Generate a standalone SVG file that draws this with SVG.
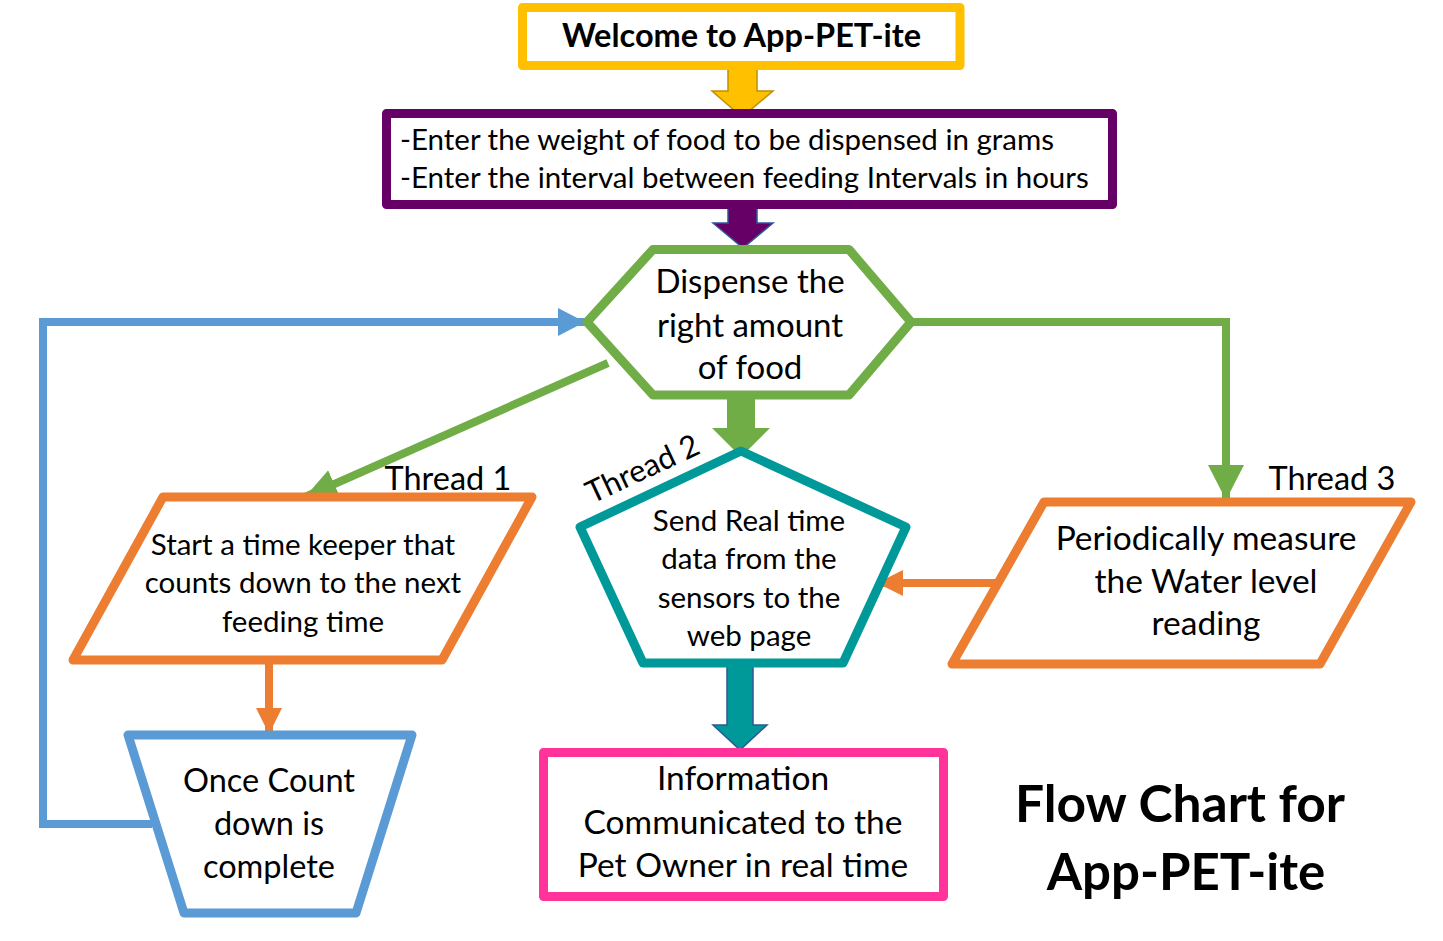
<svg xmlns="http://www.w3.org/2000/svg" width="1443" height="941" viewBox="0 0 1443 941">
  <style>
    .t { font-family: Lato, "Liberation Sans", sans-serif; fill: #000; }
    .c { text-anchor: middle; }
    .b { font-weight: bold; }
    .shape { fill: #fff; stroke-width: 9; stroke-linejoin: round; }
    .line { fill: none; stroke-width: 8; }
  </style>
  <defs>
    <marker id="headGreen" markerUnits="userSpaceOnUse" markerWidth="40" markerHeight="40" refX="32" refY="15" orient="auto">
      <path d="M0,0 L32,15 L0,30 Z" fill="#70AD47"/>
    </marker>
    <marker id="headGreenBig" markerUnits="userSpaceOnUse" markerWidth="40" markerHeight="40" refX="35" refY="18" orient="auto">
      <path d="M0,0 L35,18 L0,36 Z" fill="#70AD47"/>
    </marker>
    <marker id="headBlue" markerUnits="userSpaceOnUse" markerWidth="40" markerHeight="40" refX="27" refY="14" orient="auto">
      <path d="M0,0 L27,14 L0,28 Z" fill="#5B9BD5"/>
    </marker>
    <marker id="headOrange" markerUnits="userSpaceOnUse" markerWidth="40" markerHeight="40" refX="26" refY="13" orient="auto">
      <path d="M0,0 L26,13 L0,26 Z" fill="#ED7D31"/>
    </marker>
  </defs>

  <rect width="1443" height="941" fill="#fff"/>

  <!-- connectors -->
  <g id="connectors">
    <!-- block arrows -->
    <path id="arrow-welcome-input" d="M728,67 L757,67 L757,91 L773,91 L742,117 L712,91 L728,91 Z" fill="#FFC000" stroke="#BF9000" stroke-width="1.5"/>
    <path id="arrow-input-dispense" d="M728,200 L757,200 L757,223 L773,223 L743,248 L713,223 L728,223 Z" fill="#660066" stroke="#2F5597" stroke-width="1.5"/>
    <path id="arrow-dispense-thread2" d="M727,395 L755,395 L755,428 L770,428 L741,457 L712,428 L727,428 Z" fill="#70AD47"/>
    <path id="arrow-thread2-info" d="M727,665 L753,665 L753,725 L767,725 L740,750 L713,725 L727,725 Z" fill="#009999" stroke="#2F5597" stroke-width="1.5"/>

    <!-- Thread 1 -->
    <line x1="608" y1="363" x2="305" y2="497" class="line" stroke="#70AD47" marker-end="url(#headGreen)"/>
    <!-- Thread 3 -->
    <polyline points="911,322 1226,322 1226,500" class="line" stroke="#70AD47" stroke-width="10" marker-end="url(#headGreenBig)"/>
    <!-- water level reading to web page -->
    <line x1="996" y1="583" x2="877" y2="583" class="line" stroke="#ED7D31" stroke-width="9" marker-end="url(#headOrange)"/>
    <!-- timer to countdown -->
    <line x1="269" y1="660" x2="269" y2="734" class="line" stroke="#ED7D31" stroke-width="9" marker-end="url(#headOrange)"/>
    <!-- loop back to dispense -->
    <polyline points="152,824 43,824 43,322 585,322" class="line" stroke="#5B9BD5" stroke-width="9" marker-end="url(#headBlue)"/>
  </g>

  <!-- nodes -->
  <g id="welcome">
    <rect x="522.5" y="7.5" width="437.5" height="58" class="shape" stroke="#FFC000" stroke-linejoin="miter"/>
    <text x="741.5" y="47" class="t c b" font-size="32.5">Welcome to App-PET-ite</text>
  </g>

  <g id="input">
    <rect x="386.5" y="113.5" width="726" height="91" class="shape" stroke="#660066" stroke-linejoin="miter"/>
    <text x="400" y="150" class="t" font-size="29.5">-Enter the weight of food to be dispensed in grams</text>
    <text x="400" y="188" class="t" font-size="29.5">-Enter the interval between feeding Intervals in hours</text>
  </g>

  <g id="dispense">
    <polygon points="653,249.5 849,249.5 911,322 849,395 653,395 587,322" class="shape" stroke="#70AD47"/>
    <text x="750" y="293" class="t c" font-size="33">Dispense the</text>
    <text x="750" y="337" class="t c" font-size="33">right amount</text>
    <text x="750" y="379" class="t c" font-size="33">of food</text>
  </g>

  <g id="timer">
    <polygon points="163,497 532,497 442,660 73,660" class="shape" stroke="#ED7D31"/>
    <text x="303" y="555" class="t c" font-size="29.5">Start a time keeper that</text>
    <text x="303" y="593" class="t c" font-size="29.5">counts down to the next</text>
    <text x="303" y="632" class="t c" font-size="29.5">feeding time</text>
    <text x="448" y="490" class="t c" font-size="32.5">Thread 1</text>
  </g>

  <g id="send-data">
    <polygon points="741,451 906,527 843,663 643,663 580,527" class="shape" stroke="#009999"/>
    <text x="749" y="531" class="t c" font-size="29.5">Send Real time</text>
    <text x="749" y="569" class="t c" font-size="29.5">data from the</text>
    <text x="749" y="608" class="t c" font-size="29.5">sensors to the</text>
    <text x="749" y="646" class="t c" font-size="29.5">web page</text>
    <text x="0" y="0" class="t" font-size="31" transform="translate(592,504) rotate(-25)">Thread 2</text>
  </g>

  <g id="water-level">
    <polygon points="1044,502 1411,502 1320,664 952,664" class="shape" stroke="#ED7D31"/>
    <text x="1206" y="550" class="t c" font-size="33.5">Periodically measure</text>
    <text x="1206" y="593" class="t c" font-size="33.5">the Water level</text>
    <text x="1206" y="635" class="t c" font-size="33.5">reading</text>
    <text x="1332" y="490" class="t c" font-size="32.5">Thread 3</text>
  </g>

  <g id="countdown">
    <polygon points="128,735 412,735 356,913 184,913" class="shape" stroke="#5B9BD5"/>
    <text x="269" y="792" class="t c" font-size="32.5">Once Count</text>
    <text x="269" y="835" class="t c" font-size="32.5">down is</text>
    <text x="269" y="878" class="t c" font-size="32.5">complete</text>
  </g>

  <g id="information">
    <rect x="543.5" y="752.5" width="400" height="144" class="shape" stroke="#FF3399"/>
    <text x="743" y="790" class="t c" font-size="33.5">Information</text>
    <text x="743" y="834" class="t c" font-size="33.5">Communicated to the</text>
    <text x="743" y="877" class="t c" font-size="33.5">Pet Owner in real time</text>
  </g>

  <g id="title">
    <text x="1180" y="822" class="t c b" font-size="51.5">Flow Chart for</text>
    <text x="1186" y="890" class="t c b" font-size="51">App-PET-ite</text>
  </g>
</svg>
